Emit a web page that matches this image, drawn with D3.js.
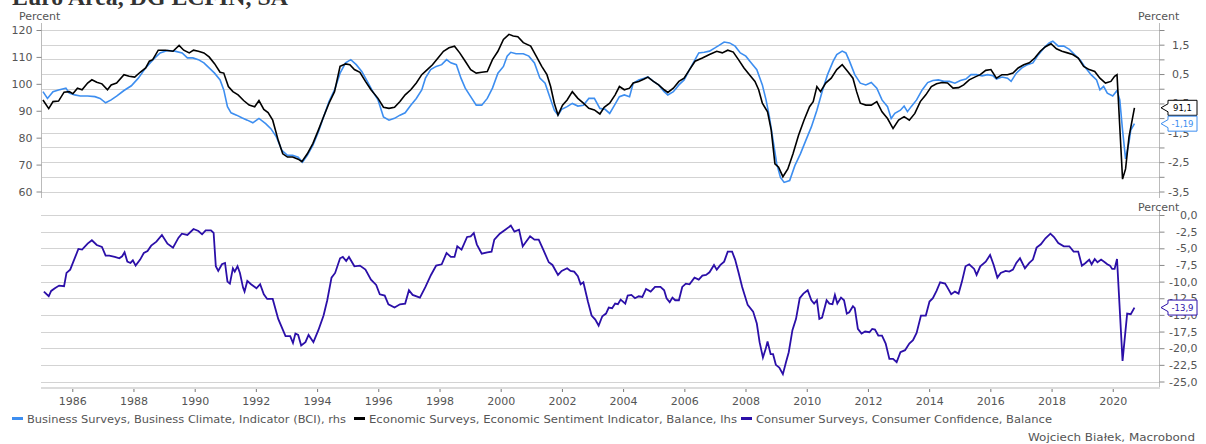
<html lang="en">
  <head>
    <meta charset="UTF-8" />
    <title>Euro Area, DG ECFIN, SA</title>
    <script src="https://d3js.org/d3.v7.min.js"></script>
    <style>
      body { margin: 0; background: #fff; }
      svg text { font-family: "DejaVu Sans", Verdana, sans-serif; fill: #555; }
    </style>
  </head>
  <body>
    <svg></svg>
    <script>
      var width = 1206;
      var height = 444;

      // readings [decimal year, value]
      var esi = [[1985.04,94.0],[1985.23,90.8],[1985.37,93.4],[1985.55,93.6],[1985.73,96.9],[1985.9,97.1],[1986.02,96.3],[1986.17,98.4],[1986.32,97.8],[1986.5,100.3],[1986.64,101.5],[1986.8,100.6],[1986.97,100.0],[1987.15,97.8],[1987.27,99.6],[1987.45,100.3],[1987.69,103.4],[1987.86,102.8],[1988.04,102.5],[1988.22,104.3],[1988.4,105.9],[1988.52,108.4],[1988.63,109.0],[1988.81,112.5],[1989.05,112.5],[1989.29,112.1],[1989.49,114.3],[1989.64,112.5],[1989.82,111.5],[1989.96,112.5],[1990.12,112.1],[1990.3,111.5],[1990.47,110.0],[1990.65,107.5],[1990.83,104.3],[1990.95,104.0],[1991.1,99.0],[1991.25,97.1],[1991.42,95.9],[1991.6,93.8],[1991.78,92.1],[1991.96,91.5],[1992.1,93.8],[1992.26,90.5],[1992.4,89.3],[1992.55,86.5],[1992.73,79.0],[1992.88,74.0],[1993.03,72.8],[1993.2,72.8],[1993.38,72.0],[1993.5,71.1],[1993.68,74.0],[1993.86,77.8],[1994.04,82.8],[1994.21,87.8],[1994.39,92.8],[1994.57,97.1],[1994.75,106.5],[1994.93,107.4],[1995.07,107.1],[1995.22,105.3],[1995.4,104.3],[1995.58,100.9],[1995.76,97.8],[1995.99,94.6],[1996.17,91.3],[1996.35,90.9],[1996.53,91.3],[1996.71,93.4],[1996.88,95.9],[1997.06,97.8],[1997.24,100.3],[1997.42,103.4],[1997.6,105.3],[1997.77,107.1],[1997.95,109.6],[1998.13,112.1],[1998.31,113.4],[1998.49,114.0],[1998.66,111.5],[1998.84,108.4],[1999.02,105.3],[1999.2,104.0],[1999.38,104.3],[1999.56,104.6],[1999.73,109.0],[1999.91,112.1],[2000.09,116.5],[2000.27,118.4],[2000.41,117.8],[2000.56,117.5],[2000.74,115.3],[2000.98,114.0],[2001.16,110.3],[2001.34,106.5],[2001.51,103.4],[2001.63,99.0],[2001.75,92.8],[2001.87,88.4],[2002.02,92.1],[2002.17,94.0],[2002.34,97.1],[2002.52,94.6],[2002.7,92.8],[2002.88,90.9],[2003.06,90.3],[2003.24,88.8],[2003.38,91.3],[2003.56,92.8],[2003.74,95.9],[2003.88,99.0],[2004.04,97.8],[2004.21,98.4],[2004.33,100.3],[2004.51,100.9],[2004.69,101.8],[2004.81,102.5],[2004.99,100.9],[2005.16,99.6],[2005.34,97.8],[2005.46,96.8],[2005.64,98.4],[2005.82,100.9],[2005.99,102.1],[2006.17,105.3],[2006.35,108.4],[2006.59,109.6],[2006.82,110.9],[2007.06,112.1],[2007.24,111.5],[2007.42,112.5],[2007.6,111.8],[2007.77,109.0],[2007.95,105.9],[2008.13,103.4],[2008.31,100.9],[2008.43,97.8],[2008.55,92.8],[2008.72,89.6],[2008.84,82.8],[2008.96,70.3],[2009.08,69.0],[2009.22,65.5],[2009.38,68.4],[2009.55,74.0],[2009.73,80.9],[2009.91,86.5],[2010.09,91.5],[2010.21,93.4],[2010.33,99.0],[2010.45,97.1],[2010.62,100.3],[2010.8,102.1],[2010.98,105.3],[2011.16,107.1],[2011.34,104.6],[2011.51,102.1],[2011.63,97.1],[2011.75,92.8],[2011.93,92.1],[2012.11,92.1],[2012.29,93.4],[2012.46,89.6],[2012.64,87.1],[2012.82,83.4],[2013.0,86.5],[2013.18,87.8],[2013.35,86.5],[2013.53,89.0],[2013.71,93.4],[2013.89,95.9],[2014.07,99.0],[2014.24,100.0],[2014.42,100.5],[2014.6,100.3],[2014.78,98.4],[2014.96,98.6],[2015.13,99.6],[2015.31,101.5],[2015.49,102.5],[2015.67,103.4],[2015.85,105.0],[2016.02,105.3],[2016.2,102.1],[2016.38,103.4],[2016.56,103.4],[2016.74,104.0],[2016.91,105.9],[2017.09,107.1],[2017.27,107.8],[2017.45,109.6],[2017.63,112.1],[2017.8,113.8],[2017.98,114.9],[2018.16,113.0],[2018.34,112.1],[2018.52,111.5],[2018.69,110.9],[2018.87,109.6],[2019.05,106.5],[2019.23,105.3],[2019.41,104.6],[2019.58,102.1],[2019.76,100.3],[2019.94,100.9],[2020.06,102.8],[2020.14,103.4],[2020.32,64.6],[2020.42,68.4],[2020.53,80.3],[2020.71,91.1]];

      var bci = [[1985.04,-0.10],[1985.19,-0.33],[1985.37,-0.10],[1985.55,-0.04],[1985.79,0.02],[1985.9,-0.15],[1986.08,-0.21],[1986.26,-0.25],[1986.5,-0.25],[1986.74,-0.27],[1986.91,-0.33],[1987.09,-0.48],[1987.27,-0.38],[1987.45,-0.25],[1987.69,-0.06],[1987.93,0.10],[1988.16,0.36],[1988.4,0.71],[1988.64,0.99],[1988.87,1.22],[1989.11,1.30],[1989.35,1.28],[1989.59,1.22],[1989.76,1.05],[1989.94,1.05],[1990.12,0.99],[1990.3,0.88],[1990.47,0.71],[1990.65,0.53],[1990.83,0.30],[1990.95,-0.04],[1991.07,-0.61],[1991.19,-0.82],[1991.37,-0.90],[1991.54,-0.99],[1991.72,-1.07],[1991.9,-1.16],[1992.1,-1.01],[1992.32,-1.19],[1992.49,-1.36],[1992.67,-1.64],[1992.85,-2.10],[1993.03,-2.27],[1993.2,-2.27],[1993.38,-2.33],[1993.52,-2.50],[1993.68,-2.27],[1993.86,-1.93],[1994.04,-1.47],[1994.21,-0.96],[1994.39,-0.44],[1994.57,-0.04],[1994.75,0.53],[1994.93,0.88],[1995.1,0.99],[1995.28,0.82],[1995.46,0.59],[1995.64,0.25],[1995.82,-0.10],[1995.99,-0.38],[1996.17,-0.96],[1996.35,-1.07],[1996.53,-1.01],[1996.71,-0.90],[1996.88,-0.82],[1997.06,-0.56],[1997.24,-0.33],[1997.42,-0.04],[1997.54,0.36],[1997.71,0.65],[1997.89,0.76],[1998.07,0.82],[1998.23,0.99],[1998.37,0.88],[1998.55,0.82],[1998.7,0.36],[1998.84,0.02],[1999.02,-0.27],[1999.2,-0.56],[1999.38,-0.56],[1999.56,-0.33],[1999.73,0.02],[1999.91,0.53],[2000.09,0.76],[2000.21,1.11],[2000.33,1.24],[2000.5,1.19],[2000.74,1.19],[2000.92,1.11],[2001.1,0.88],[2001.28,0.36],[2001.45,0.19],[2001.6,-0.27],[2001.75,-0.73],[2001.87,-0.90],[2001.99,-0.70],[2002.17,-0.61],[2002.34,-0.50],[2002.52,-0.59],[2002.7,-0.56],[2002.88,-0.33],[2003.06,-0.33],[2003.24,-0.67],[2003.41,-0.70],[2003.56,-0.84],[2003.72,-0.56],[2003.88,-0.27],[2004.04,-0.21],[2004.21,-0.27],[2004.33,0.19],[2004.51,0.30],[2004.69,0.36],[2004.81,0.40],[2004.99,0.25],[2005.16,0.13],[2005.34,-0.10],[2005.46,-0.21],[2005.64,-0.10],[2005.82,0.13],[2005.99,0.30],[2006.17,0.65],[2006.35,0.99],[2006.47,1.22],[2006.65,1.24],[2006.82,1.28],[2007.0,1.39],[2007.12,1.47],[2007.3,1.59],[2007.48,1.56],[2007.66,1.45],[2007.83,1.22],[2008.01,1.11],[2008.19,0.88],[2008.37,0.65],[2008.55,0.13],[2008.67,-0.38],[2008.78,-0.96],[2008.9,-1.76],[2009.02,-2.56],[2009.14,-3.02],[2009.26,-3.19],[2009.44,-3.13],[2009.61,-2.62],[2009.79,-2.22],[2009.97,-1.76],[2010.15,-1.30],[2010.33,-0.73],[2010.5,-0.10],[2010.68,0.48],[2010.86,0.93],[2010.98,1.16],[2011.16,1.28],[2011.28,1.22],[2011.4,0.93],[2011.57,0.48],[2011.75,0.19],[2011.93,0.13],[2012.11,0.21],[2012.29,0.02],[2012.46,-0.38],[2012.64,-0.61],[2012.76,-1.01],[2012.88,-0.84],[2013.06,-0.73],[2013.18,-0.59],[2013.29,-0.78],[2013.41,-0.61],[2013.59,-0.38],[2013.77,-0.04],[2013.95,0.21],[2014.12,0.28],[2014.3,0.30],[2014.48,0.25],[2014.66,0.25],[2014.84,0.19],[2015.02,0.28],[2015.2,0.33],[2015.37,0.48],[2015.55,0.48],[2015.73,0.44],[2015.91,0.48],[2016.09,0.44],[2016.2,0.33],[2016.38,0.40],[2016.56,0.36],[2016.68,0.25],[2016.85,0.53],[2017.03,0.71],[2017.21,0.82],[2017.39,0.88],[2017.57,1.16],[2017.75,1.39],[2017.92,1.56],[2018.04,1.62],[2018.22,1.45],[2018.4,1.45],[2018.58,1.34],[2018.75,1.16],[2018.93,0.99],[2019.11,0.71],[2019.29,0.48],[2019.47,0.30],[2019.58,-0.04],[2019.7,0.08],[2019.82,-0.15],[2020.0,-0.25],[2020.14,-0.06],[2020.23,-0.38],[2020.32,-1.41],[2020.42,-2.39],[2020.53,-1.82],[2020.59,-1.41],[2020.71,-1.19]];

      var cci = [[1985.07,-11.5],[1985.23,-12.2],[1985.31,-11.4],[1985.43,-11.0],[1985.57,-10.6],[1985.73,-10.7],[1985.81,-8.7],[1985.93,-8.2],[1986.02,-7.2],[1986.2,-5.1],[1986.32,-5.2],[1986.5,-4.3],[1986.64,-3.8],[1986.8,-4.5],[1986.97,-4.8],[1987.09,-6.1],[1987.21,-6.1],[1987.39,-6.3],[1987.54,-6.5],[1987.63,-6.2],[1987.71,-5.6],[1987.8,-7.0],[1987.9,-7.2],[1987.98,-6.8],[1988.07,-7.6],[1988.22,-6.7],[1988.34,-5.7],[1988.46,-5.4],[1988.58,-4.6],[1988.75,-4.0],[1988.93,-3.0],[1989.11,-4.3],[1989.29,-4.9],[1989.47,-3.4],[1989.58,-2.8],[1989.76,-3.0],[1989.96,-2.1],[1990.12,-2.4],[1990.24,-2.9],[1990.36,-2.3],[1990.53,-2.3],[1990.62,-2.7],[1990.69,-7.7],[1990.77,-8.4],[1990.89,-7.4],[1990.99,-7.2],[1991.07,-10.0],[1991.15,-10.3],[1991.25,-8.0],[1991.31,-8.5],[1991.4,-7.7],[1991.48,-8.7],[1991.58,-10.9],[1991.63,-11.5],[1991.72,-9.9],[1991.84,-10.4],[1992.02,-11.0],[1992.14,-10.4],[1992.26,-11.9],[1992.37,-12.6],[1992.55,-12.6],[1992.73,-15.6],[1992.97,-18.2],[1993.12,-18.2],[1993.21,-19.2],[1993.29,-17.8],[1993.38,-18.0],[1993.48,-19.6],[1993.62,-19.1],[1993.72,-18.0],[1993.88,-19.1],[1994.04,-17.3],[1994.21,-15.1],[1994.33,-12.8],[1994.47,-9.4],[1994.59,-8.7],[1994.75,-6.5],[1994.84,-6.3],[1994.95,-6.9],[1995.04,-6.3],[1995.22,-7.7],[1995.4,-7.6],[1995.58,-8.2],[1995.76,-9.7],[1995.93,-10.5],[1996.05,-11.9],[1996.21,-12.1],[1996.33,-13.4],[1996.53,-13.9],[1996.71,-13.4],[1996.88,-13.3],[1997.0,-11.3],[1997.12,-12.0],[1997.36,-12.4],[1997.54,-10.8],[1997.72,-9.0],[1997.89,-7.6],[1998.07,-7.4],[1998.23,-5.7],[1998.37,-6.3],[1998.49,-6.3],[1998.58,-4.7],[1998.72,-5.2],[1998.9,-3.3],[1999.02,-3.2],[1999.12,-2.7],[1999.22,-4.4],[1999.38,-5.8],[1999.56,-5.6],[1999.7,-5.5],[1999.79,-3.7],[1999.97,-2.8],[2000.15,-2.2],[2000.33,-1.6],[2000.45,-2.5],[2000.6,-2.2],[2000.72,-4.7],[2000.8,-4.2],[2000.96,-3.2],[2001.1,-3.7],[2001.24,-3.7],[2001.39,-5.2],[2001.57,-7.1],[2001.69,-7.5],[2001.87,-9.0],[2001.99,-8.4],[2002.17,-8.0],[2002.28,-8.4],[2002.4,-8.5],[2002.52,-9.2],[2002.61,-10.4],[2002.7,-10.1],[2002.85,-13.0],[2002.97,-15.1],[2003.09,-15.7],[2003.2,-16.6],[2003.32,-15.2],[2003.44,-14.8],[2003.53,-13.9],[2003.64,-14.0],[2003.74,-13.3],[2003.83,-13.4],[2003.92,-12.7],[2004.07,-13.3],[2004.15,-12.1],[2004.27,-12.0],[2004.39,-12.5],[2004.51,-12.2],[2004.63,-12.3],[2004.75,-11.1],[2004.9,-11.5],[2005.04,-10.8],[2005.22,-10.8],[2005.34,-11.3],[2005.42,-12.5],[2005.52,-13.1],[2005.61,-12.4],[2005.7,-12.8],[2005.82,-12.8],[2005.93,-10.8],[2006.05,-10.3],[2006.17,-10.4],[2006.33,-9.4],[2006.47,-9.7],[2006.59,-9.1],[2006.71,-9.0],[2006.82,-8.6],[2006.97,-7.5],[2007.06,-8.2],[2007.18,-7.5],[2007.3,-7.0],[2007.42,-5.5],[2007.56,-5.5],[2007.66,-6.7],[2007.77,-8.6],[2007.89,-10.8],[2008.07,-13.5],[2008.25,-14.5],[2008.37,-16.3],[2008.46,-19.1],[2008.57,-21.4],[2008.66,-20.1],[2008.72,-19.0],[2008.82,-20.9],[2008.9,-20.9],[2008.99,-22.5],[2009.1,-22.9],[2009.22,-23.9],[2009.32,-22.1],[2009.41,-20.6],[2009.53,-17.3],[2009.65,-15.6],[2009.77,-12.5],[2009.89,-11.8],[2010.03,-11.3],[2010.15,-12.8],[2010.24,-13.3],[2010.33,-12.8],[2010.41,-15.6],[2010.5,-15.4],[2010.65,-12.8],[2010.74,-13.3],[2010.84,-13.4],[2010.92,-12.0],[2011.0,-13.3],[2011.12,-12.4],[2011.22,-12.8],[2011.31,-14.8],[2011.39,-14.6],[2011.51,-13.7],[2011.57,-14.0],[2011.67,-17.1],[2011.79,-17.8],[2011.91,-17.5],[2012.05,-17.6],[2012.14,-17.1],[2012.23,-17.2],[2012.34,-18.1],[2012.46,-18.1],[2012.58,-19.3],[2012.7,-21.6],[2012.82,-21.6],[2012.94,-22.1],[2013.06,-20.6],[2013.21,-20.3],[2013.35,-19.3],[2013.47,-18.8],[2013.59,-17.7],[2013.73,-15.1],[2013.89,-15.1],[2014.01,-13.0],[2014.12,-12.5],[2014.24,-11.4],[2014.36,-10.1],[2014.52,-10.3],[2014.6,-10.9],[2014.72,-11.9],[2014.84,-11.5],[2014.96,-11.8],[2015.07,-10.0],[2015.19,-7.7],[2015.31,-7.4],[2015.47,-8.1],[2015.55,-9.0],[2015.67,-7.7],[2015.85,-7.0],[2015.99,-6.0],[2016.11,-7.5],[2016.23,-9.4],[2016.34,-8.7],[2016.5,-8.4],[2016.62,-8.5],[2016.74,-8.2],[2016.85,-7.2],[2016.97,-6.5],[2017.13,-8.0],[2017.27,-7.2],[2017.39,-6.7],[2017.51,-4.9],[2017.65,-4.4],[2017.8,-3.5],[2017.96,-2.8],[2018.08,-3.3],[2018.22,-4.2],[2018.4,-4.7],[2018.58,-4.7],[2018.72,-5.5],[2018.87,-5.5],[2018.99,-7.6],[2019.11,-7.2],[2019.23,-6.7],[2019.31,-7.4],[2019.41,-6.6],[2019.5,-7.1],[2019.62,-6.7],[2019.74,-7.1],[2019.82,-7.4],[2019.91,-7.6],[2019.98,-8.1],[2020.06,-8.1],[2020.14,-6.6],[2020.32,-21.9],[2020.47,-14.8],[2020.59,-14.9],[2020.71,-13.9]];

      var yearTicks = d3.range(1986, 2021, 2);
      var leftTicks = [60, 70, 80, 90, 100, 110, 120];
      var rightTopTicks = d3.range(-3.5, 2.01, 0.5);
      var rightBottomTicks = d3.range(0, -25.01, -2.5);

      var legendItems = [
        { label: "Business Surveys, Business Climate, Indicator (BCI), rhs", color: "#3d8ef0" },
        { label: "Economic Surveys, Economic Sentiment Indicator, Balance, lhs", color: "#000000" },
        { label: "Consumer Surveys, Consumer Confidence, Balance", color: "#2b0fa8" },
      ];

      var locale = d3.formatLocale({ decimal: ",", thousands: ".", grouping: [3], currency: ["", ""], minus: "-" });
      var fmt1 = locale.format(".1f");
      var fmt2 = locale.format(".2f");

      function toDate(y) {
        var yr = Math.floor(y);
        return new Date(yr, 0, 1 + Math.round((y - yr) * 365.25));
      }

      var svg = d3.select("svg").attr("width", width).attr("height", height);

      var x = d3.scaleTime()
        .domain([new Date(1985, 0, 1), new Date(2021, 6, 12)])
        .range([41.7, 1159.5]);
      var yL = d3.scaleLinear().domain([60, 120]).range([191.5, 30]);
      var yR = d3.scaleLinear().domain([-3.5, 2]).range([191.5, 30]);
      var yC = d3.scaleLinear().domain([-25, 0]).range([381.5, 215]);

      // title (cut at the top edge)
      svg.append("text")
        .attr("x", 12)
        .attr("y", 5)
        .attr("textLength", 276)
        .attr("lengthAdjust", "spacingAndGlyphs")
        .style("font-family", "'Liberation Serif', serif")
        .style("font-weight", "bold")
        .style("font-size", "23px")
        .style("fill", "#333")
        .text("Euro Area, DG ECFIN, SA");

      // gridlines
      svg.append("g")
        .selectAll("line")
        .data(rightTopTicks)
        .join("line")
        .attr("x1", 41).attr("x2", 1159.5)
        .attr("y1", (d) => Math.round(yR(d)) + 0.5)
        .attr("y2", (d) => Math.round(yR(d)) + 0.5)
        .style("stroke", "#d3d3d3");

      svg.append("g")
        .selectAll("line")
        .data(rightBottomTicks)
        .join("line")
        .attr("x1", 41).attr("x2", 1159.5)
        .attr("y1", (d) => Math.round(yC(d)) + 0.5)
        .attr("y2", (d) => Math.round(yC(d)) + 0.5)
        .style("stroke", "#d3d3d3");

      // left axis top panel
      var gLeft = svg.append("g")
        .attr("transform", "translate(41.5,0)")
        .call(d3.axisLeft(yL).tickValues(leftTicks).tickSize(5).tickPadding(4).tickSizeOuter(0));
      gLeft.select(".domain").attr("d", "M0,23V198").style("stroke", "#bbb");

      // right axis top panel
      var gRight = svg.append("g")
        .attr("transform", "translate(1159.5,0)")
        .call(d3.axisRight(yR).tickValues(rightTopTicks).tickSize(5).tickSizeOuter(0)
          .tickFormat((d) => (Math.abs(Math.round(d * 2)) % 2 === 1 ? fmt1(d) : "")));
      gRight.select(".domain").attr("d", "M0,23V198").style("stroke", "#bbb");
      gRight.selectAll("text").attr("x", 30).attr("text-anchor", "end");

      // right axis bottom panel
      var gRight2 = svg.append("g")
        .attr("transform", "translate(1159.5,0)")
        .call(d3.axisRight(yC).tickValues(rightBottomTicks).tickSize(5).tickSizeOuter(0).tickFormat(fmt1));
      gRight2.select(".domain").attr("d", "M0,210V388").style("stroke", "#bbb");
      gRight2.selectAll("text").attr("x", 38).attr("text-anchor", "end");

      svg.selectAll(".tick line").style("stroke", "#888");
      svg.selectAll(".tick text").style("font-size", "11px").style("fill", "#555");
      svg.selectAll("g text").style("font-family", "'DejaVu Sans', Verdana, sans-serif");

      // x axis
      svg.append("line")
        .attr("x1", 41).attr("x2", 1160)
        .attr("y1", 388).attr("y2", 388)
        .style("stroke", "#dcdcdc")
        .style("stroke-width", 2);
      var gX = svg.append("g")
        .attr("transform", "translate(0,389)")
        .call(d3.axisBottom(x).tickValues(yearTicks.map((d) => new Date(d, 0, 1)))
          .tickSize(3).tickPadding(5).tickFormat(d3.timeFormat("%Y")));
      gX.select(".domain").remove();
      gX.selectAll(".tick line").style("stroke", "#777");
      gX.selectAll("text").style("font-size", "11px").style("fill", "#555")
        .style("font-family", "'DejaVu Sans', Verdana, sans-serif");

      // "Percent" labels
      var units = [[19, 20], [1138, 20], [1138, 211]];
      svg.append("g")
        .selectAll("text")
        .data(units)
        .join("text")
        .attr("x", (d) => d[0])
        .attr("y", (d) => d[1])
        .style("font-size", "11px")
        .style("fill", "#555")
        .text("Percent");

      // series
      var lineL = d3.line().x((d) => x(toDate(d[0]))).y((d) => yL(d[1]));
      var lineR = d3.line().x((d) => x(toDate(d[0]))).y((d) => yR(d[1]));
      var lineC = d3.line().x((d) => x(toDate(d[0]))).y((d) => yC(d[1]));

      svg.append("path").datum(bci).attr("d", lineR)
        .style("fill", "none").style("stroke", legendItems[0].color).style("stroke-width", 1.6);
      svg.append("path").datum(esi).attr("d", lineL)
        .style("fill", "none").style("stroke", legendItems[1].color).style("stroke-width", 1.6);
      svg.append("path").datum(cci).attr("d", lineC)
        .style("fill", "none").style("stroke", legendItems[2].color).style("stroke-width", 1.8);

      // end value tags
      var lastE = esi[esi.length - 1], lastB = bci[bci.length - 1], lastC = cci[cci.length - 1];
      var tags = [
        { y: yL(lastE[1]), text: fmt1(lastE[1]), color: "#000" },
        { y: yR(lastB[1]), text: fmt2(lastB[1]), color: legendItems[0].color },
        { y: yC(lastC[1]), text: fmt1(lastC[1]), color: legendItems[2].color },
      ];
      var gTags = svg.append("g").selectAll("g").data(tags).join("g");
      gTags.append("path")
        .attr("d", (d) => {
          var t = d.y, x0 = 1161, x1 = 1168, x2 = 1197;
          return `M${x0},${t}L${x1},${t - 4}V${t - 7.5}H${x2}V${t + 7.5}H${x1}V${t + 4}Z`;
        })
        .style("fill", "#fff")
        .style("stroke", (d) => d.color)
        .style("stroke-width", 1);
      gTags.append("text")
        .attr("x", 1182.5)
        .attr("y", (d) => d.y + 3)
        .attr("text-anchor", "middle")
        .style("font-size", "8.5px")
        .style("fill", (d) => d.color)
        .text((d) => d.text);

      // legend
      var legendX = [12, 354, 741];
      var legendW = [319, 368, 296];
      var gLeg = svg.append("g").selectAll("g").data(legendItems).join("g")
        .attr("transform", (d, i) => `translate(${legendX[i]},418.5)`);
      gLeg.append("line")
        .attr("x1", 0).attr("x2", 11)
        .style("stroke", (d) => d.color)
        .style("stroke-width", 3);
      gLeg.append("text")
        .attr("x", 15)
        .attr("y", 4)
        .attr("textLength", (d, i) => legendW[i])
        .attr("lengthAdjust", "spacingAndGlyphs")
        .style("font-size", "11px")
        .style("fill", "#555")
        .text((d) => d.label);

      svg.append("text")
        .attr("x", 1195)
        .attr("y", 441)
        .attr("text-anchor", "end")
        .attr("textLength", 167)
        .attr("lengthAdjust", "spacingAndGlyphs")
        .style("font-size", "11px")
        .style("fill", "#555")
        .text("Wojciech Białek, Macrobond");
    </script>
  </body>
</html>
